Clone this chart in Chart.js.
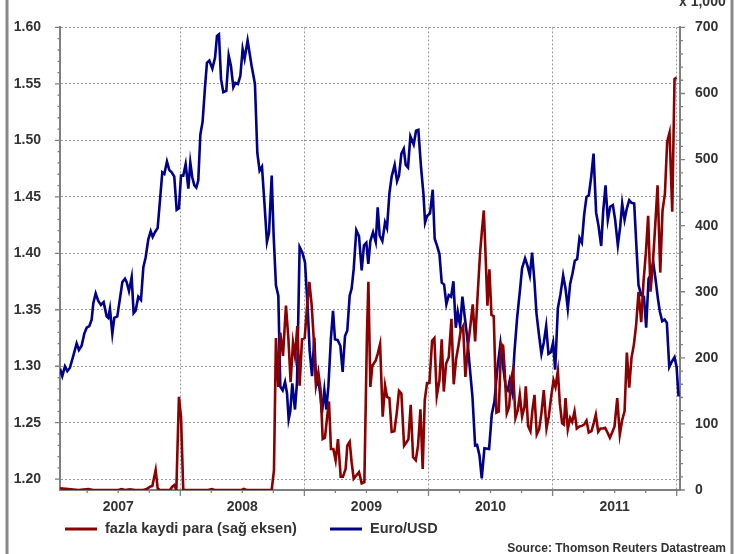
<!DOCTYPE html>
<html>
<head>
<meta charset="utf-8">
<style>
html,body{margin:0;padding:0;background:#fff;}
#wrap{width:742px;height:554px;position:relative;overflow:hidden;}
canvas{display:block;}
</style>
<script src="https://cdn.jsdelivr.net/npm/chart.js@4.4.1/dist/chart.umd.min.js"></script>
</head>
<body>
<div id="wrap"><canvas id="c" width="742" height="554"></canvas></div>
<script>
// ---- data (x = months since 1 Jan 2007) ----
const seriesNames = ['fazla kaydi para (sağ eksen)', 'Euro/USD'];
const yearLabels = ['2007', '2008', '2009', '2010', '2011'];
const yearMid = [6, 18, 30, 42, 54];
const yearBounds = [12, 24, 36, 48, 60];
const leftTicks = [1.20, 1.25, 1.30, 1.35, 1.40, 1.45, 1.50, 1.55, 1.60];
const rightTicks = [0, 100, 200, 300, 400, 500, 600, 700];
const rightUnit = 'x 1,000';
const sourceText = 'Source: Thomson Reuters Datastream';

const eurMonths = [
0.37,0.59,0.85,1.08,1.33,1.66,1.98,2.20,2.46,2.72,
2.95,3.20,3.43,3.59,3.82,4.07,4.33,4.59,4.88,5.04,
5.20,5.43,5.62,5.91,6.17,6.40,6.65,6.81,7.04,7.30,
7.49,7.68,7.94,8.20,8.43,8.65,8.91,9.14,9.33,9.55,
9.81,10.04,10.26,10.46,10.71,10.94,11.17,11.42,11.65,11.87,
12.07,12.29,12.52,12.78,12.97,13.16,13.36,13.55,13.74,13.94,
14.16,14.39,14.58,14.81,15.10,15.36,15.55,15.74,15.94,16.16,
16.45,16.68,16.90,17.13,17.32,17.58,17.81,18.03,18.22,18.51,
18.90,19.22,19.45,19.67,19.90,20.13,20.38,20.58,20.84,21.03,
21.25,21.48,21.67,21.90,22.13,22.32,22.48,22.64,22.83,23.09,
23.29,23.54,23.80,24.06,24.32,24.51,24.74,24.96,25.15,25.35,
25.54,25.70,25.93,26.12,26.32,26.57,26.77,26.96,27.22,27.48,
27.70,27.93,28.15,28.38,28.57,28.77,29.02,29.28,29.54,29.76,
29.99,30.18,
30.38,30.64,30.90,31.09,31.28,31.54,31.80,31.99,32.22,32.44,
32.73,32.96,33.15,33.38,33.61,33.80,34.02,34.25,34.57,34.80,
35.02,35.28,35.51,35.67,35.86,36.15,36.41,36.60,36.83,37.06,
37.28,37.51,37.73,37.96,38.19,38.41,38.64,38.83,39.06,39.28,
39.48,39.73,39.99,40.25,40.51,40.70,40.93,41.15,41.41,41.86,
42.12,42.38,42.64,42.96,43.18,43.47,43.67,43.86,44.09,44.31,
44.57,44.83,45.05,45.34,45.57,45.80,46.02,46.25,46.44,46.67,
46.92,47.15,47.38,47.60,47.83,48.05,48.25,48.51,48.76,49.02,
49.25,49.47,49.70,49.92,50.15,50.38,50.60,50.83,51.05,51.28,
51.50,51.73,51.96,52.21,52.44,52.70,52.89,53.12,53.34,53.57,
53.83,54.05,54.31,54.54,54.73,54.96,55.18,55.41,55.63,55.89,
56.12,56.31,56.57,56.83,57.05,57.28,57.47,57.73,57.95,58.18,
58.37,58.60,58.83,59.05,59.28,59.50,59.79,59.99,60.18
];
const eurValues = [
1.2978,1.2912,1.2999,1.2958,1.2987,1.3094,1.3202,1.3144,1.3181,1.3289,
1.3341,1.3355,1.3413,1.3558,1.3645,1.3578,1.3543,1.3567,1.3442,1.3428,
1.3509,1.3289,1.3428,1.3442,1.3601,1.3746,1.3775,1.3746,1.3665,1.3789,
1.3470,1.3491,1.3616,1.3587,1.3877,1.3963,1.4123,1.4195,1.4146,1.4187,
1.4224,1.4470,1.4717,1.4702,1.4812,1.4737,1.4717,1.4679,1.4384,1.4398,
1.4688,1.4688,1.4789,1.4572,1.4804,1.4673,1.4601,1.4581,1.4644,1.5050,
1.5166,1.5470,1.5687,1.5707,1.5635,1.5731,1.5925,1.5939,1.5542,1.5426,
1.5438,1.5751,1.5658,1.5470,1.5508,1.5499,1.5571,1.5809,1.5722,1.5884,
1.5658,1.5499,1.4890,1.4731,1.4766,1.4456,1.4100,1.4181,1.4688,1.4152,
1.3717,1.3625,1.2819,1.2787,1.2862,1.2761,1.2530,1.2602,1.2848,1.2617,
1.2862,1.4056,1.4007,1.3920,1.3514,1.3138,1.2912,1.3254,1.2834,1.2877,
1.2747,1.2588,1.2790,1.2617,1.2819,1.3254,1.3491,1.3239,1.3231,1.3181,
1.2950,1.3268,1.3317,1.3625,1.3688,1.3862,1.4204,1.4152,1.3848,1.4071,
1.4094,1.3906,
1.4108,1.4187,1.4100,1.4407,1.4158,1.4108,1.4273,1.4224,1.4528,1.4679,
1.4783,1.4638,1.4688,1.4882,1.4925,1.4783,1.4760,1.5035,1.4963,1.5085,
1.5093,1.4760,1.4528,1.4273,1.4331,1.4354,1.4563,1.4129,1.4065,1.3993,
1.3740,1.3723,1.3549,1.3630,1.3616,1.3752,1.3341,1.3480,1.3355,1.3616,
1.3457,1.3268,1.2993,1.2732,1.2298,1.2303,1.2211,1.2008,1.2274,1.2268,
1.2573,1.2689,1.2964,1.3202,1.3022,1.2819,1.2790,1.2877,1.2776,1.3124,
1.3428,1.3659,1.3868,1.3955,1.3891,1.3804,1.4007,1.3746,1.3470,1.3289,
1.3109,1.3210,1.3355,1.3109,1.3124,1.3210,1.2970,1.3514,1.3636,1.3804,
1.3688,1.3509,1.3731,1.3818,1.3934,1.3949,1.4137,1.4094,1.4340,1.4499,
1.4513,1.4673,1.4882,1.4360,1.4244,1.4065,1.4369,1.4601,1.4296,1.4412,
1.4427,1.4296,1.4071,1.4238,1.4441,1.4296,1.4398,1.4470,1.4447,1.4441,
1.4036,1.3717,1.3630,1.3616,1.3341,1.3775,1.3804,1.3920,1.3775,1.3601,
1.3485,1.3399,1.3413,1.3384,1.2993,1.3036,1.3080,1.2993,1.2732
];
const liqMonths = [
0.37,1.17,2.14,3.11,3.59,6.01,6.33,6.65,7.14,7.62,
8.43,8.75,9.07,9.30,9.62,9.81,10.04,11.00,11.23,11.42,
11.62,11.87,12.07,12.29,14.71,15.03,15.36,17.93,18.13,18.42,
20.84,21.06,21.25,21.48,21.67,21.93,22.22,22.45,22.67,22.90,
23.09,23.32,23.54,23.77,24.03,24.22,24.48,24.70,24.90,25.12,
25.35,25.57,25.77,25.99,26.19,26.38,26.57,26.80,27.02,27.25,
27.51,27.73,27.99,28.15,28.38,28.57,28.77,29.02,29.28,29.54,
29.80,30.05,30.19,
30.38,30.57,30.90,31.09,31.32,31.57,31.80,31.99,32.22,32.44,
32.70,32.93,33.15,33.38,33.64,33.86,34.06,34.28,34.51,34.77,
34.99,35.22,35.44,35.64,35.86,36.09,36.35,36.57,36.80,37.06,
37.28,37.48,37.70,37.96,38.22,38.44,38.67,38.89,39.12,39.35,
39.57,39.80,40.06,40.28,40.51,40.77,40.99,41.15,41.35,41.51,
41.70,41.89,42.09,42.31,42.57,42.80,43.02,43.22,43.35,43.57,
43.80,43.99,44.18,44.41,44.64,44.83,45.05,45.28,45.41,45.63,
45.86,46.05,46.25,46.47,46.70,46.92,47.15,47.41,47.63,47.86,
48.09,48.28,48.51,48.70,48.92,49.09,49.25,49.47,49.70,49.89,
50.12,50.34,50.60,50.83,51.05,51.28,51.50,51.76,51.99,52.18,
52.41,52.63,52.89,53.08,53.31,53.54,53.76,53.99,54.25,54.50,
54.73,54.96,55.18,55.41,55.63,55.86,56.08,56.31,56.57,56.79,
57.02,57.24,57.47,57.70,57.92,58.15,58.41,58.63,58.86,59.08,
59.31,59.57,59.79,59.99
];
const liqValues = [
2.5,1.5,0,1.5,0,0,1.5,0,1,0,
0,1.5,5,6,30,2.5,0,0,5,7.5,
0,141,111,0,0,1.5,0,0,1.5,0,
0,30,230,156,238,203,279,230,163,223,
203,248,158,228,230,270,315,281,230,158,
178,151,77,79,109,134,62,62,45,77,
20,20,32,67,73,42,17,22,27,10,
12,235,315,
156,188,196,206,221,111,158,141,139,88,
89,116,150,146,67,72,77,129,50,45,
67,122,32,136,162,162,226,230,142,166,
228,149,191,201,259,160,198,218,241,248,
171,215,250,281,225,300,359,389,423,359,
279,334,265,263,117,119,221,218,186,116,
126,168,182,109,121,144,111,126,157,97,
89,121,144,84,92,116,151,93,111,141,
166,156,180,131,101,99,139,92,109,103,
119,93,96,97,99,105,87,89,102,114,
88,93,93,94,87,79,87,96,139,84,
106,119,208,155,200,220,250,300,254,315,
359,415,300,344,399,461,329,423,448,527,
541,421,622,624
];

// ---- styling ----
const FONT = '"Liberation Sans", Arial, Helvetica, sans-serif';
const TXT = '#333333';
const RED = '#8b0000';
const BLUE = '#00008b';
const AXIS = '#808080';
const GRID = '#9a9a9a';
const X_MIN = 0.37, X_MAX = 60.32;
const YL_MIN = 1.19043, YL_MAX = 1.60;

Chart.defaults.font.family = FONT;

const toPts = (xs, ys) => xs.map((m, i) => ({x: m, y: ys[i]}));

const decor = {
  id: 'decor',
  afterDraw(chart) {
    const {ctx, chartArea: ca} = chart;
    const x = chart.scales.x, yL = chart.scales.yL, yR = chart.scales.yR;
    ctx.save();
    // minor / major tick marks
    ctx.strokeStyle = AXIS;
    ctx.lineWidth = 1.3;
    ctx.beginPath();
    for (let k = 120; k <= 160; k++) {
      const py = yL.getPixelForValue(k / 100);
      const len = (k % 5 === 0) ? 5 : 2.5;
      ctx.moveTo(ca.left, py); ctx.lineTo(ca.left - len, py);
    }
    for (let v = 0; v <= 700; v += 20) {
      const py = yR.getPixelForValue(v);
      const len = (v % 100 === 0) ? 5 : 3;
      ctx.moveTo(ca.right, py); ctx.lineTo(ca.right + len, py);
    }
    for (let m = 3; m <= 60; m += 3) {
      const px = x.getPixelForValue(m);
      const len = (m % 12 === 0) ? 6 : 3;
      ctx.moveTo(px, ca.bottom); ctx.lineTo(px, ca.bottom + len);
    }
    ctx.stroke();

    // outer frame lines
    ctx.strokeStyle = '#888888';
    ctx.lineWidth = 3;
    ctx.beginPath();
    ctx.moveTo(7, 0); ctx.lineTo(7, chart.height);
    ctx.moveTo(732, 0); ctx.lineTo(732, chart.height);
    ctx.stroke();

    // right axis unit
    ctx.fillStyle = TXT;
    ctx.font = 'bold 14px ' + FONT;
    ctx.textAlign = 'left';
    ctx.textBaseline = 'alphabetic';
    ctx.fillText(rightUnit, 679, 6);

    // legend
    const ds = chart.data.datasets;
    const items = [{x0: 65, tx: 105}, {x0: 330, tx: 370}];
    ctx.textBaseline = 'middle';
    ds.forEach((d, i) => {
      const it = items[i];
      ctx.strokeStyle = d.borderColor;
      ctx.lineWidth = 3;
      ctx.beginPath();
      ctx.moveTo(it.x0, 529); ctx.lineTo(it.x0 + 32, 529);
      ctx.stroke();
      ctx.fillStyle = TXT;
      ctx.font = 'bold 14.5px ' + FONT;
      ctx.fillText(d.label, it.tx, 529);
    });

    // source
    ctx.font = 'bold 12px ' + FONT;
    ctx.textAlign = 'right';
    ctx.fillText(sourceText, 726, 549);
    ctx.restore();
  }
};

new Chart(document.getElementById('c'), {
  type: 'line',
  data: {
    datasets: [
      {label: seriesNames[0], data: toPts(liqMonths, liqValues), yAxisID: 'yR', xAxisID: 'x',
       borderColor: RED, borderWidth: 2.6, pointRadius: 0, tension: 0, fill: false},
      {label: seriesNames[1], data: toPts(eurMonths, eurValues), yAxisID: 'yL', xAxisID: 'x',
       borderColor: BLUE, borderWidth: 2.6, pointRadius: 0, tension: 0, fill: false}
    ]
  },
  options: {
    responsive: false,
    animation: false,
    parsing: false,
    layout: {padding: {top: 19, left: 0, right: 0, bottom: 0}},
    plugins: {legend: {display: false}, tooltip: {enabled: false}},
    scales: {
      x: {
        type: 'linear', position: 'bottom', weight: 0,
        min: X_MIN, max: X_MAX,
        afterBuildTicks: s => { s.ticks = yearBounds.map(v => ({value: v})); },
        ticks: {display: false},
        grid: {display: true, color: GRID, lineWidth: 1, drawTicks: false},
        border: {display: true, color: AXIS, width: 2, dash: [2, 2]},
        afterFit: s => { s.height = 0; }
      },
      xl: {
        type: 'linear', position: 'bottom', weight: 1,
        min: X_MIN, max: X_MAX,
        afterBuildTicks: s => { s.ticks = yearMid.map(v => ({value: v})); },
        ticks: {
          autoSkip: false, maxRotation: 0, padding: 9, color: TXT,
          font: {size: 14, weight: 'bold', family: FONT},
          callback: v => yearLabels[yearMid.indexOf(v)]
        },
        grid: {display: false, drawTicks: false},
        border: {display: false},
        afterFit: s => { s.height = 64; }
      },
      yL: {
        type: 'linear', position: 'left',
        min: YL_MIN, max: YL_MAX,
        afterBuildTicks: s => { s.ticks = leftTicks.map(v => ({value: v})); },
        ticks: {
          padding: 19, color: TXT,
          font: {size: 14, weight: 'bold', family: FONT},
          callback: v => v.toFixed(2)
        },
        grid: {display: true, color: GRID, lineWidth: 1, drawTicks: false},
        border: {display: true, color: AXIS, width: 2, dash: [2, 2]},
        afterFit: s => { s.width = 60; }
      },
      yR: {
        type: 'linear', position: 'right',
        min: 0, max: 700,
        afterBuildTicks: s => { s.ticks = rightTicks.map(v => ({value: v})); },
        ticks: {
          padding: 15, color: TXT,
          font: {size: 14, weight: 'bold', family: FONT},
          callback: v => String(v)
        },
        grid: {display: true, drawOnChartArea: false, drawTicks: false},
        border: {display: true, color: AXIS, width: 2},
        afterFit: s => { s.width = 62; }
      }
    }
  },
  plugins: [decor]
});
</script>
</body>
</html>
